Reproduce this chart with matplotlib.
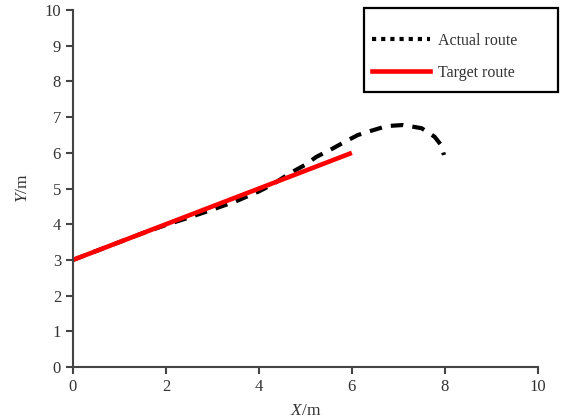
import matplotlib.pyplot as plt
from matplotlib.lines import Line2D
from matplotlib.patches import Rectangle

plt.rcParams['font.family'] = ['Liberation Serif', 'DejaVu Serif']
plt.rcParams['mathtext.fontset'] = 'custom'
plt.rcParams['mathtext.it'] = 'Liberation Serif:italic'
plt.rcParams['mathtext.rm'] = 'Liberation Serif'

# Target route: straight line
target_x = [0, 6]
target_y = [3, 6]

# Actual route
actual_x = [0.0, 0.5, 1.0, 1.5, 2.0, 2.5, 3.0, 3.5, 4.0, 4.3, 4.67, 4.99, 5.24, 5.53,
            5.85, 6.13, 6.42, 6.75, 7.10, 7.5, 7.78, 7.93, 7.98]
actual_y = [3.0, 3.25, 3.5, 3.75, 3.98, 4.19, 4.41, 4.64, 4.92, 5.12, 5.43, 5.66, 5.89, 6.08,
            6.31, 6.5, 6.62, 6.75, 6.78, 6.69, 6.45, 6.2, 5.94]

fig = plt.figure(figsize=(5.74, 4.19), dpi=100)
ax = fig.add_axes([0.127, 0.124, 0.81, 0.852])

ax.plot(actual_x, actual_y, color='black', linewidth=3, linestyle=(0, (3, 2.2)))
ax.plot(target_x, target_y, color='red', linewidth=3.3, solid_capstyle='butt')

ax.set_xlim(0, 10)
ax.set_ylim(0, 10)
ax.set_xticks([0, 2, 4, 6, 8, 10])
ax.set_yticks(range(0, 11))

for s in ['top', 'right']:
    ax.spines[s].set_visible(False)
for s in ['left', 'bottom']:
    ax.spines[s].set_color('#444444')
    ax.spines[s].set_linewidth(1.5)
ax.tick_params(direction='out', length=5, width=1.5, color='#444444',
               labelsize=12, labelcolor='#333333')

ax.set_xlabel('$X$/m', fontsize=12.5, color='#333333', labelpad=6)
ax.set_ylabel('$Y$/m', fontsize=12.5, color='#333333', labelpad=10)

# legend: frame drawn separately so its size matches the reference
fig.patches.append(Rectangle((364 / 574, 1 - 92 / 419), 194 / 574, 84 / 419,
                             transform=fig.transFigure, fill=False,
                             edgecolor='black', linewidth=1.6, zorder=5))
handles = [Line2D([], [], color='black', linewidth=3, linestyle=(0, (1, 1.2))),
           Line2D([], [], color='red', linewidth=3.3)]
leg = ax.legend(handles, ['Actual route', 'Target route'],
                loc='upper left', bbox_to_anchor=(372 / 574, 1 - 33 / 419),
                bbox_transform=fig.transFigure, fontsize=11.5,
                handlelength=3.6, handletextpad=0.55, labelspacing=1.0,
                borderpad=0.0, borderaxespad=0.0, frameon=False)
for t in leg.get_texts():
    t.set_color('#333333')

fig.savefig('out.png', dpi=100)
